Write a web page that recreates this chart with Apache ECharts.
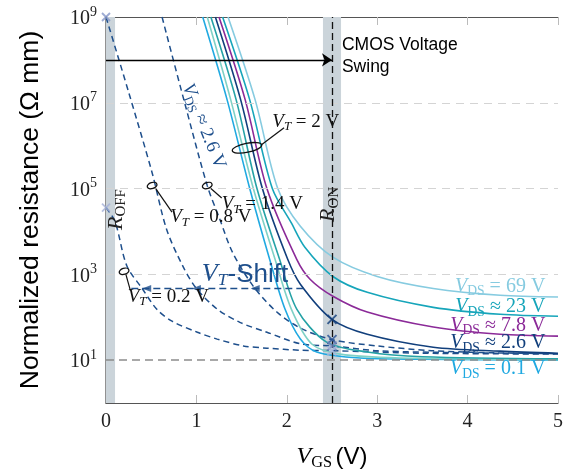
<!DOCTYPE html>
<html>
<head>
<meta charset="utf-8">
<script src="https://cdn.jsdelivr.net/npm/echarts@6/dist/echarts.min.js"></script>
<style>
html,body{margin:0;padding:0;background:#fff;}
#main{width:570px;height:476px;}
</style>
</head>
<body>
<div id="main"></div>
<script>
// V_T = 2 V, one curve per V_DS (gate voltage in V, resistance in Ohm mm)
const vgsDs01 = [1.07, 1.34, 1.59, 1.81, 1.98, 2.15, 2.33, 2.81, 3.5, 5];
const resDs01 = [1e9, 1.17e7, 1e5, 2.24e3, 155, 31, 15.5, 11.2, 10.5, 10];
const vgsDs03 = [1.12, 1.38, 1.63, 1.87, 2.05, 2.28, 2.59, 3.25, 5];
const resDs03 = [1e9, 1.17e7, 1e5, 2.24e3, 155, 23.4, 13.8, 11.2, 10.2];
const vgsDs09 = [1.16, 1.44, 1.67, 1.92, 2.11, 2.44, 2.89, 3.5, 5];
const resDs09 = [1e9, 1.17e7, 1e5, 2.24e3, 155, 26.3, 15.5, 12, 10.7];
const vgsDs26 = [1.21, 1.49, 1.73, 2.01, 2.15, 2.5, 2.89, 3.62, 4.36, 5];
const resDs26 = [1e9, 1.17e7, 1e5, 2.24e3, 589, 89, 40, 20, 16.2, 14.5];
const vgsDs78 = [1.25, 1.54, 1.78, 2.11, 2.26, 2.51, 2.89, 3.62, 4.36, 5];
const resDs78 = [1e9, 1.17e7, 1e5, 2.24e3, 759, 309, 132, 59, 40, 36.3];
const vgsDs23 = [1.29, 1.59, 1.84, 2.05, 2.2, 2.51, 2.89, 3.62, 4.36, 5];
const resDs23 = [1e9, 1.17e7, 1e5, 1.58e4, 4.27e3, 891, 380, 170, 117, 105];
const vgsDs69 = [1.35, 1.65, 1.9, 2.15, 2.51, 3.0, 3.62, 4.36, 5];
const resDs69 = [1e9, 1.17e7, 1e5, 1.32e4, 2.51e3, 891, 468, 324, 295];

// V_DS ~ 2.6 V, shifted threshold
const vgsVt02 = [0, 0.1, 0.23, 0.4, 0.56, 0.73, 1.01, 1.23, 1.52, 1.78, 2.15, 2.5, 3.5, 5];
const resVt02 = [3.6e4, 1.7e4, 1.58e3, 468, 155, 81, 44.7, 30.9, 21.4, 19, 17, 16.6, 14.5, 13.8];
const vgsVt08 = [0, 0.25, 0.51, 0.67, 0.85, 1.0, 1.23, 1.48, 1.78, 2.15, 2.5, 3.0, 4.0, 5];
const resVt08 = [1e9, 1.78e7, 2.34e5, 1.12e4, 1.55e3, 468, 155, 76, 44.7, 24, 21.4, 16.6, 14.8, 14.1];
const vgsVt14 = [0.62, 0.87, 1.12, 1.26, 1.4, 1.63, 1.89, 2.15, 2.5, 3.0, 3.6, 4.3, 5];
const resVt14 = [1e9, 1e7, 1.17e5, 1.9e4, 3.24e3, 525, 132, 56, 30, 21.4, 16.6, 14.8, 14.1];

// R_OFF / R_ON markers
const offVgs = [0, 0];
const offRes = [3.6e4, 1e9];
const onVgs = [2.5, 2.5, 2.5, 2.5];
const onRes = [89, 30, 21.4, 16.6];

// V_T shift arrow
const shiftVgs = [0.28, 2.2];
const shiftRes = 468;
const shiftHeads = [0.45, 1.0, 1.65];

const yTicks = [1e1, 1e3, 1e5, 1e7, 1e9];

const serif = 'Liberation Serif';
const sans = 'Liberation Sans';
const pairs = (xs, ys) => xs.map((x, i) => [x, Array.isArray(ys) ? ys[i] : ys]);

function solid(name, xs, ys, color){
    return {
        name: name, type: 'line', data: pairs(xs, ys), showSymbol: false,
        smooth: 0.3, z: 4, silent: true,
        lineStyle: {color: color, width: 1.6}
    };
}
function dashed(name, xs, ys){
    return {
        name: name, type: 'line', data: pairs(xs, ys), showSymbol: false,
        smooth: 0.3, z: 3, silent: true,
        lineStyle: {color: '#1e4f8c', width: 1.5, type: [6, 4]}
    };
}
const crossPath = 'path://M0,0L10,10M10,0L0,10';

function rich(color, size){
    return {
        i: {fontFamily: serif, fontStyle: 'italic', fontSize: size, fill: color, color: color, verticalAlign: 'middle', lineHeight: size + 4},
        s: {fontFamily: serif, fontStyle: 'italic', fontSize: size * 0.68, fill: color, color: color, verticalAlign: 'bottom'},
        u: {fontFamily: serif, fontSize: size * 0.68, fill: color, color: color, verticalAlign: 'bottom'},
        n: {fontFamily: serif, fontSize: size, fill: color, color: color, verticalAlign: 'middle', lineHeight: size + 4},
        h: {fontFamily: sans, fontSize: size, fill: color, color: color, verticalAlign: 'middle', lineHeight: size + 4}
    };
}

let chart = echarts.init(document.getElementById('main'));
let option = {
    backgroundColor: '#fff',
    animation: false,
    grid: {left: 106, right: 12, top: 17, bottom: 72},
    xAxis: [
        {
            type: 'value', min: 0, max: 5, interval: 1,
            name: '{i|V}{u|GS} {h|(V)}', nameLocation: 'middle', nameGap: 40,
            nameTextStyle: {rich: rich('#000', 24)},
            axisLine: {lineStyle: {color: '#555', width: 1.2}},
            axisTick: {inside: true, length: 8, lineStyle: {color: '#bbb'}},
            axisLabel: {fontFamily: serif, fontSize: 20, color: '#222', margin: 9},
            splitLine: {show: false}
        },
        {
            type: 'value', min: 0, max: 5, interval: 1, position: 'top',
            axisLine: {lineStyle: {color: '#555', width: 1.2}},
            axisTick: {inside: true, length: 8, lineStyle: {color: '#bbb'}},
            axisLabel: {show: false}, splitLine: {show: false}
        }
    ],
    yAxis: [
        {
            type: 'log', logBase: 10, min: 1, max: 1e9, interval: 1,
            name: 'Normalized resistance (Ω mm)', nameLocation: 'middle', nameGap: 62,
            nameTextStyle: {fontFamily: sans, fontSize: 26.5, color: '#000'},
            axisLine: {show: true, lineStyle: {color: '#777', width: 1.5}},
            axisTick: {show: false},
            axisLabel: {
                margin: 9,
                formatter: v => {
                    let e = Math.round(Math.log10(v));
                    return e % 2 ? '{b|10}{e|' + e + '}' : '';
                },
                rich: {
                    b: {fontFamily: serif, fontSize: 20, color: '#222', verticalAlign: 'bottom', lineHeight: 24},
                    e: {fontFamily: serif, fontSize: 14, color: '#222', verticalAlign: 'top'}
                }
            },
            splitLine: {show: false}
        },
        {
            type: 'log', logBase: 10, min: 1, max: 1e9, interval: 1, position: 'right',
            axisLine: {show: true, lineStyle: {color: '#555', width: 1.2}},
            axisTick: {show: false}, axisLabel: {show: false}, splitLine: {show: false}
        }
    ],
    series: [
        {
            name: 'bands', type: 'line', data: [], silent: true,
            markArea: {
                silent: true,
                itemStyle: {color: '#cbd4da'},
                data: [[{xAxis: 0}, {xAxis: 0.1}], [{xAxis: 2.4}, {xAxis: 2.6}]]
            },
            markLine: {
                silent: true, symbol: 'none', label: {show: false},
                data: [
                    ...yTicks.slice(1, 4).map(r => ({yAxis: r, lineStyle: {color: '#d4d4d4', width: 1, type: [8, 6]}})),
                    {yAxis: yTicks[0], lineStyle: {color: '#8c8c8c', width: 1.5, type: [8, 5]}},
                    {xAxis: 2.5, lineStyle: {color: '#111', width: 1.3, type: [7, 4]}}
                ]
            }
        },
        {
            name: 'swing', type: 'line', data: [], silent: true,
            markLine: {
                silent: true, symbol: ['none', 'arrow'], symbolSize: 10, label: {show: false},
                lineStyle: {color: '#000', width: 1.3, type: 'solid'},
                data: [[{coord: [0, 1e8]}, {coord: [2.5, 1e8]}]]
            },
            z: 8
        },
        dashed('VT 0.2', vgsVt02, resVt02),
        dashed('VT 0.8', vgsVt08, resVt08),
        dashed('VT 1.4', vgsVt14, resVt14),
        solid('0.1 V', vgsDs01, resDs01, '#20a9e1'),
        solid('0.3 V', vgsDs03, resDs03, '#7fd1c6'),
        solid('0.9 V', vgsDs09, resDs09, '#25a2a6'),
        solid('2.6 V', vgsDs26, resDs26, '#113f7c'),
        solid('7.8 V', vgsDs78, resDs78, '#8b2a98'),
        solid('23 V', vgsDs23, resDs23, '#16a5ba'),
        solid('69 V', vgsDs69, resDs69, '#86cbe0'),
        {
            name: 'shift', type: 'line', data: pairs(shiftVgs, shiftRes), showSymbol: false, silent: true,
            lineStyle: {color: '#1e4f8c', width: 1.5, type: [7, 4]}, z: 5
        },
        {
            name: 'shiftHeads', type: 'scatter', data: pairs(shiftHeads, shiftRes), silent: true,
            symbol: 'triangle', symbolSize: [7, 9], symbolRotate: 90,
            itemStyle: {color: '#1e4f8c'}, z: 6
        },
        {
            name: 'off', type: 'scatter', silent: true, z: 7,
            symbol: crossPath, symbolSize: 8,
            data: pairs(offVgs, offRes).map((d, i) => ({
                value: d, itemStyle: {color: 'none', borderWidth: 1.8, borderColor: ['#a5b2d8', '#8596c8'][i]}
            }))
        },
        {
            name: 'on', type: 'scatter', silent: true, z: 7,
            symbol: crossPath, symbolSize: 9,
            data: pairs(onVgs, onRes).map((d, i) => ({
                value: d, itemStyle: {color: 'none', borderWidth: 2, borderColor: ['#123f7a', '#2a5394', '#6f86bd', '#a8b6dc'][i]}
            }))
        }
    ]
};
chart.setOption(option);

// annotations placed in data coordinates
const P = (v, r) => chart.convertToPixel({xAxisIndex: 0, yAxisIndex: 0}, [v, r]);
const notes = [
    {v: 1.84, r: 10 ** 6.56, t: '{i|V}{s|T}{n| = 2 V}', c: '#111', size: 19, align: 'left'},
    {v: 1.28, r: 10 ** 4.63, t: '{i|V}{s|T}{n| = 1.4 V}', c: '#111', size: 19, align: 'left'},
    {v: 0.71, r: 10 ** 4.33, t: '{i|V}{s|T}{n| = 0.8 V}', c: '#111', size: 19, align: 'left'},
    {v: 0.24, r: 10 ** 2.47, t: '{i|V}{s|T}{n| = 0.2 V}', c: '#111', size: 19, align: 'left'},
    {v: 1.06, r: 10 ** 3.0, t: '{i|V}{s|T}{h|-Shift}', c: '#1e4f8c', size: 26, align: 'left'},
    {v: 1.08, r: 10 ** 6.45, t: '{i|V}{u|DS}{n| ≈ 2.6 V}', c: '#1e4f8c', size: 19, align: 'center', rot: -1.19},
    {v: 0.11, r: 10 ** 4.51, t: '{i|R}{u|OFF}', c: '#222', size: 22, align: 'center', rot: Math.PI / 2},
    {v: 2.46, r: 10 ** 4.63, t: '{i|R}{u|ON}', c: '#222', size: 22, align: 'center', rot: Math.PI / 2},
    {v: 4.86, r: 10 ** 2.71, t: '{i|V}{u|DS}{n| = 69 V}', c: '#86cbe0', size: 20, align: 'right'},
    {v: 4.86, r: 10 ** 2.24, t: '{i|V}{u|DS}{n| ≈ 23 V}', c: '#16a5ba', size: 20, align: 'right'},
    {v: 4.86, r: 10 ** 1.8, t: '{i|V}{u|DS}{n| ≈ 7.8 V}', c: '#8b2a98', size: 20, align: 'right'},
    {v: 4.86, r: 10 ** 1.4, t: '{i|V}{u|DS}{n| ≈ 2.6 V}', c: '#113f7c', size: 20, align: 'right'},
    {v: 4.86, r: 10 ** 0.79, t: '{i|V}{u|DS}{n| = 0.1 V}', c: '#20a9e1', size: 20, align: 'right'},
    {v: 2.61, r: 10 ** 8.35, t: '{h|CMOS Voltage}', c: '#000', size: 17.5, align: 'left'},
    {v: 2.61, r: 10 ** 7.82, t: '{h|Swing}', c: '#000', size: 17.5, align: 'left'}
];
// pointers: small loops on a curve with a leader line to the label
const loops = [
    {v: 1.56, r: 10 ** 5.95, rx: 15, ry: 4.5, rot: 0.2, to: [[1.72, 10 ** 6.02], [1.97, 10 ** 6.42]]},
    {v: 0.51, r: 10 ** 5.07, rx: 5, ry: 3, rot: 0.3, to: [[0.55, 10 ** 5.0], [0.73, 10 ** 4.45]]},
    {v: 1.12, r: 10 ** 5.07, rx: 5, ry: 3, rot: 0.3, to: [[1.16, 10 ** 5.0], [1.28, 10 ** 4.78]]},
    {v: 0.2, r: 10 ** 3.07, rx: 5, ry: 3, rot: 0.3, to: [[0.22, 10 ** 3.0], [0.27, 10 ** 2.62]]}
];
let graphic = [];
notes.forEach(n => {
    let [x, y] = P(n.v, n.r);
    graphic.push({
        type: 'text', x: x, y: y, rotation: n.rot || 0, z: 20, silent: true,
        style: {text: n.t, rich: rich(n.c, n.size), align: n.align, verticalAlign: 'middle', fill: n.c}
    });
});
loops.forEach(l => {
    let [x, y] = P(l.v, l.r),
        a = P(l.to[0][0], l.to[0][1]),
        b = P(l.to[1][0], l.to[1][1]);
    graphic.push({
        type: 'ellipse', x: x, y: y, rotation: l.rot, z: 20, silent: true,
        shape: {cx: 0, cy: 0, rx: l.rx, ry: l.ry},
        style: {fill: 'none', stroke: '#111', lineWidth: 1.3}
    });
    graphic.push({
        type: 'line', z: 20, silent: true,
        shape: {x1: a[0], y1: a[1], x2: b[0], y2: b[1]},
        style: {stroke: '#111', lineWidth: 1.2}
    });
});
chart.setOption({graphic: graphic});
</script>
</body>
</html>
